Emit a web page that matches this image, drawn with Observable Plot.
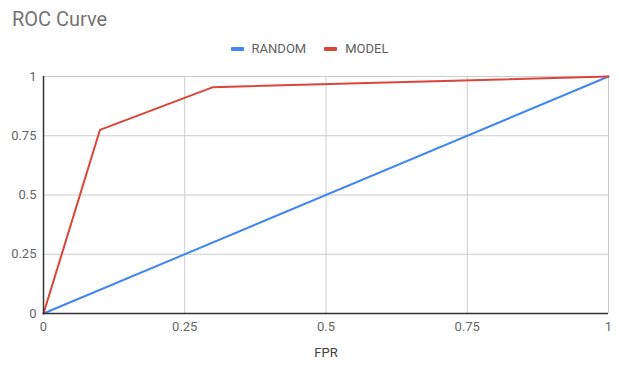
<!DOCTYPE html>
<html>
<head>
<meta charset="utf-8">
<script src="https://cdn.jsdelivr.net/npm/d3@7"></script>
<script src="https://cdn.jsdelivr.net/npm/@observablehq/plot@0.6"></script>
<style>
  body { margin: 0; background: #fff; font-family: Roboto, sans-serif; }
  #wrap { position: relative; width: 619px; height: 365px; }
  #title { position: absolute; left: 12px; top: 7px; font-size: 20px; color: #757575; }
  #legend { position: absolute; left: 0; width: 619px; top: 41px; text-align: center; font-size: 13px; color: #616161; }
  #legend span.item { display: inline-block; margin: 0 9px; }
  #legend span.sw { display: inline-block; width: 13px; height: 4px; border-radius: 1px; vertical-align: middle; margin-right: 8px; position: relative; top: -1px; }
  #chart { position: absolute; left: 0; top: 0; }
</style>
</head>
<body>
<div id="wrap">
  <div id="chart"></div>
  <div id="title">ROC Curve</div>
  <div id="legend"></div>
</div>
<script>
const seriesNames = ["RANDOM", "MODEL"];
const seriesColors = ["#4285F4", "#DB4437"];
const randomFPR = [0, 1];
const randomTPR = [0, 1];
const modelFPR = [0, 0.1, 0.3, 1];
const modelTPR = [0, 0.775, 0.955, 1];
const tickValues = [0, 0.25, 0.5, 0.75, 1];
const tickLabels = ["0", "0.25", "0.5", "0.75", "1"];
const xLabel = "FPR";

const rows = [];
randomFPR.forEach((x, i) => rows.push({series: seriesNames[0], x, y: randomTPR[i]}));
modelFPR.forEach((x, i) => rows.push({series: seriesNames[1], x, y: modelTPR[i]}));

const fmt = d => tickLabels[tickValues.indexOf(d)];

const plot = Plot.plot({
  width: 619,
  height: 365,
  marginTop: 76,
  marginBottom: 52,
  marginLeft: 43,
  marginRight: 11,
  style: {fontFamily: "Roboto, sans-serif", fontSize: "13px", color: "#666666", background: "transparent"},
  x: {domain: [0, 1], ticks: tickValues, tickFormat: fmt, label: null},
  y: {domain: [0, 1], ticks: tickValues, tickFormat: fmt, label: null},
  color: {domain: seriesNames, range: seriesColors},
  marks: [
    Plot.gridX(tickValues.filter(d => d > 0), {stroke: "#cccccc", strokeOpacity: 1, strokeWidth: 1}),
    Plot.gridY(tickValues.filter(d => d > 0), {stroke: "#cccccc", strokeOpacity: 1, strokeWidth: 1}),
    Plot.axisX({ticks: tickValues, tickFormat: fmt, tickSize: 0, tickPadding: 8, label: null, fill: "#666666", fontSize: 13}),
    Plot.axisY({ticks: tickValues, tickFormat: fmt, tickSize: 0, tickPadding: 7, label: null, fill: "#666666", fontSize: 13}),
    Plot.text([xLabel], {frameAnchor: "bottom", dy: 43, fill: "#424242", fontSize: 13}),
    Plot.line(rows, {x: "x", y: "y", z: "series", stroke: "series", strokeWidth: 2}),
    Plot.ruleY([0], {stroke: "#333333", strokeWidth: 1.5}),
    Plot.ruleX([0], {stroke: "#333333", strokeWidth: 1.5})
  ]
});
document.getElementById("chart").appendChild(plot);

const legend = document.getElementById("legend");
seriesNames.forEach((name, i) => {
  const item = document.createElement("span");
  item.className = "item";
  const sw = document.createElement("span");
  sw.className = "sw";
  sw.style.background = seriesColors[i];
  item.appendChild(sw);
  item.appendChild(document.createTextNode(name));
  legend.appendChild(item);
});
</script>
</body>
</html>
